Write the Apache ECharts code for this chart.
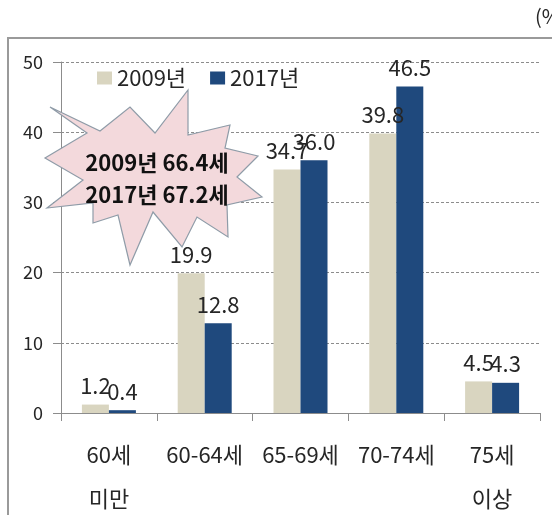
<!DOCTYPE html>
<html>
<head>
<meta charset="utf-8">
<script src="https://cdn.jsdelivr.net/npm/echarts@6/dist/echarts.min.js"></script>
<style>
  html, body { margin: 0; padding: 0; background: #fff; }
  #chart { width: 552px; height: 515px; }
</style>
</head>
<body>
<div id="chart"></div>
<script>
  var categories = ['60세\n미만', '60-64세', '65-69세', '70-74세', '75세\n이상'];
  var seriesNames = ['2009년', '2017년'];
  var values2009 = [1.2, 19.9, 34.7, 39.8, 4.5];
  var values2017 = [0.4, 12.8, 36.0, 46.5, 4.3];
  var yTicks = { min: 0, max: 50, interval: 10 };
  var calloutLines = ['2009년 66.4세', '2017년 67.2세'];
  var unitText = '(%)';

  var font = '"Noto Sans CJK KR", "Noto Sans", sans-serif';

  // starburst outline (decoration only)
  var star = [
    [50, 107], [100, 131], [130, 107], [155, 133], [188, 90], [188, 135],
    [230, 125], [225, 148], [258, 156], [237, 177], [262, 197], [227, 205],
    [228, 237], [197, 217], [182, 247], [153, 212], [130, 265], [118, 215],
    [93, 223], [93, 203], [47, 208], [83, 180], [45, 158], [87, 133]
  ];

  var chart = echarts.init(document.getElementById('chart'));

  var labelStyle = {
    show: true,
    position: 'top',
    distance: 8,
    fontSize: 22,
    color: '#262626',
    fontFamily: font,
    formatter: function (p) { return p.value.toFixed(1); }
  };

  chart.setOption({
    animation: false,
    textStyle: { fontFamily: font },
    grid: { left: 61, right: 12, top: 62, bottom: 102, outerBoundsMode: 'none' },
    legend: {
      left: 92,
      top: 62,
      itemWidth: 15,
      itemHeight: 13,
      itemGap: 24,
      icon: 'rect',
      textStyle: { fontSize: 22, color: '#262626', fontFamily: font },
      data: seriesNames
    },
    xAxis: {
      type: 'category',
      data: categories,
      axisLine: { lineStyle: { color: '#8c8c8c', width: 1 } },
      axisTick: { show: true, length: 8, lineStyle: { color: '#8c8c8c' } },
      axisLabel: {
        fontSize: 22,
        lineHeight: 44,
        margin: 20,
        color: '#262626',
        interval: 0
      }
    },
    yAxis: {
      type: 'value',
      min: yTicks.min,
      max: yTicks.max,
      interval: yTicks.interval,
      axisLine: { show: true, lineStyle: { color: '#8c8c8c' } },
      axisTick: { show: true, length: 8, lineStyle: { color: '#8c8c8c' } },
      axisLabel: { fontSize: 18, color: '#262626', margin: 18 },
      splitLine: { lineStyle: { color: '#8c8c8c', type: [3, 2] } }
    },
    series: [
      {
        name: seriesNames[0],
        type: 'bar',
        barWidth: 27,
        barGap: '0%',
        itemStyle: { color: '#d9d5c0' },
        label: labelStyle,
        z: 3,
        data: values2009
      },
      {
        name: seriesNames[1],
        type: 'bar',
        barWidth: 27,
        barGap: '0%',
        itemStyle: { color: '#1f497d' },
        label: labelStyle,
        z: 3,
        data: values2017
      }
    ],
    graphic: [
      {
        type: 'polyline',
        z: 0,
        silent: true,
        shape: { points: [[8, 515], [8, 38], [552, 38]] },
        style: { stroke: '#9a9a9a', lineWidth: 2, fill: null }
      },
      {
        type: 'text',
        left: 535,
        top: 6,
        style: { text: unitText, fontSize: 20, fill: '#262626', fontFamily: font }
      },
      {
        type: 'polygon',
        z: 1,
        silent: true,
        shape: { points: star },
        style: { fill: '#f3d9dc', stroke: '#8f9ca8', lineWidth: 1.2 }
      },
      {
        type: 'text',
        z: 1,
        x: 157,
        y: 163,
        style: {
          text: calloutLines[0],
          fontSize: 22,
          fontWeight: 'bold',
          fill: '#111',
          fontFamily: font,
          align: 'center',
          verticalAlign: 'middle'
        }
      },
      {
        type: 'text',
        z: 1,
        x: 157,
        y: 195,
        style: {
          text: calloutLines[1],
          fontSize: 22,
          fontWeight: 'bold',
          fill: '#111',
          fontFamily: font,
          align: 'center',
          verticalAlign: 'middle'
        }
      }
    ]
  });
</script>
</body>
</html>
